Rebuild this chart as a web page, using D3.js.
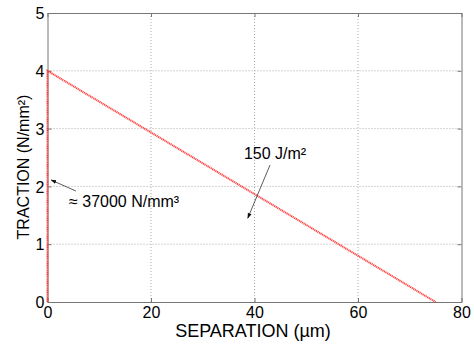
<!DOCTYPE html>
<html><head><meta charset="utf-8">
<script src="https://cdn.jsdelivr.net/npm/d3@7"></script>
<style>body{margin:0;background:#fff}svg{display:block}text{font-family:Arial,"Liberation Sans",sans-serif}</style>
</head><body>
<svg id="c" width="474" height="345"></svg>
<script>
const sepValues = [0, 0, 75];
const tractionValues = [0, 4, 0];
const xTicks = [0, 20, 40, 60, 80];
const yTicks = [0, 1, 2, 3, 4, 5];
const energyLabel = "150 J/m²";
const energyArrow = [[43, 2.37], [38.7, 1.45]];
const stiffLabel = "\u2248 37000 N/mm\u00B3";
const stiffArrow = [[5.5, 1.92], [0.7, 2.11]];

const svg = d3.select("#c");
const L = 47.5, R = 461.5, T = 13, B = 302;
const x = d3.scaleLinear().domain([0, 80]).range([L, R]);
const y = d3.scaleLinear().domain([0, 5]).range([B, T]);

svg.append("defs").append("marker").attr("id","ah").attr("viewBox","0 0 10 10")
  .attr("refX",9).attr("refY",5).attr("markerWidth",7).attr("markerHeight",7).attr("orient","auto")
  .append("path").attr("d","M0,1.5L10,5L0,8.5Z").attr("fill","#111");

// grid
const g = svg.append("g");
g.selectAll("line.gx").data(xTicks.slice(1,-1)).join("line")
  .attr("x1",d=>x(d)).attr("x2",d=>x(d)).attr("y1",T).attr("y2",B)
  .attr("stroke","#aaa").attr("stroke-width",1).attr("stroke-dasharray","1,2");
g.selectAll("line.gy").data(yTicks.slice(1,-1)).join("line")
  .attr("y1",d=>y(d)).attr("y2",d=>y(d)).attr("x1",L).attr("x2",R)
  .attr("stroke","#aaa").attr("stroke-width",1).attr("stroke-dasharray","1,2");

const fmt = d3.format("d");
// axes (ticks inward)
const xa = svg.append("g").attr("transform",`translate(0,${B})`)
  .call(d3.axisBottom(x).tickValues(xTicks).tickFormat(fmt).tickSizeInner(-4).tickSizeOuter(0).tickPadding(5));
const xt = svg.append("g").attr("transform",`translate(0,${T})`)
  .call(d3.axisTop(x).tickValues(xTicks).tickSizeInner(-4).tickSizeOuter(0).tickFormat(""));
const ya = svg.append("g").attr("transform",`translate(${L},0)`)
  .call(d3.axisLeft(y).tickValues(yTicks).tickFormat(fmt).tickSizeInner(-4).tickSizeOuter(0).tickPadding(3));
const yr = svg.append("g").attr("transform",`translate(${R},0)`)
  .call(d3.axisRight(y).tickValues(yTicks).tickSizeInner(-4).tickSizeOuter(0).tickFormat(""));
[xa,xt,ya,yr].forEach(a=>{
  a.selectAll("path").attr("stroke","#777");
  a.selectAll("line").attr("stroke","#777");
  a.selectAll("text").attr("font-size",16).attr("fill","#000").attr("font-family","Arial,'Liberation Sans',sans-serif");
});
ya.selectAll("text").attr("dy","0.35em");

// data line
const pts = sepValues.map((s,i)=>[s, tractionValues[i]]);
svg.append("path").datum(pts)
  .attr("d", d3.line().x(d=>x(d[0])).y(d=>y(d[1])))
  .attr("fill","none").attr("stroke","#ff3030").attr("stroke-width",2).attr("stroke-dasharray","1.2,0.6").attr("opacity",0.9);

// annotations
svg.append("text").attr("x",275).attr("y",159).attr("font-size",16).attr("text-anchor","middle").text(energyLabel);
svg.append("line").attr("x1",x(energyArrow[0][0])).attr("y1",y(energyArrow[0][1]))
  .attr("x2",x(energyArrow[1][0])).attr("y2",y(energyArrow[1][1]))
  .attr("stroke","#333").attr("stroke-width",0.8).attr("marker-end","url(#ah)");
svg.append("text").attr("x",69).attr("y",207).attr("font-size",16).text(stiffLabel);
svg.append("line").attr("x1",x(stiffArrow[0][0])).attr("y1",y(stiffArrow[0][1]))
  .attr("x2",x(stiffArrow[1][0])).attr("y2",y(stiffArrow[1][1]))
  .attr("stroke","#333").attr("stroke-width",0.8).attr("marker-end","url(#ah)");

// titles
svg.append("text").attr("x",253).attr("y",337).attr("font-size",18).attr("text-anchor","middle").text("SEPARATION (µm)");
svg.append("text").attr("transform",`translate(29,167) rotate(-90)`).attr("font-size",16).attr("text-anchor","middle").text("TRACTION (N/mm²)");
</script>
</body></html>
